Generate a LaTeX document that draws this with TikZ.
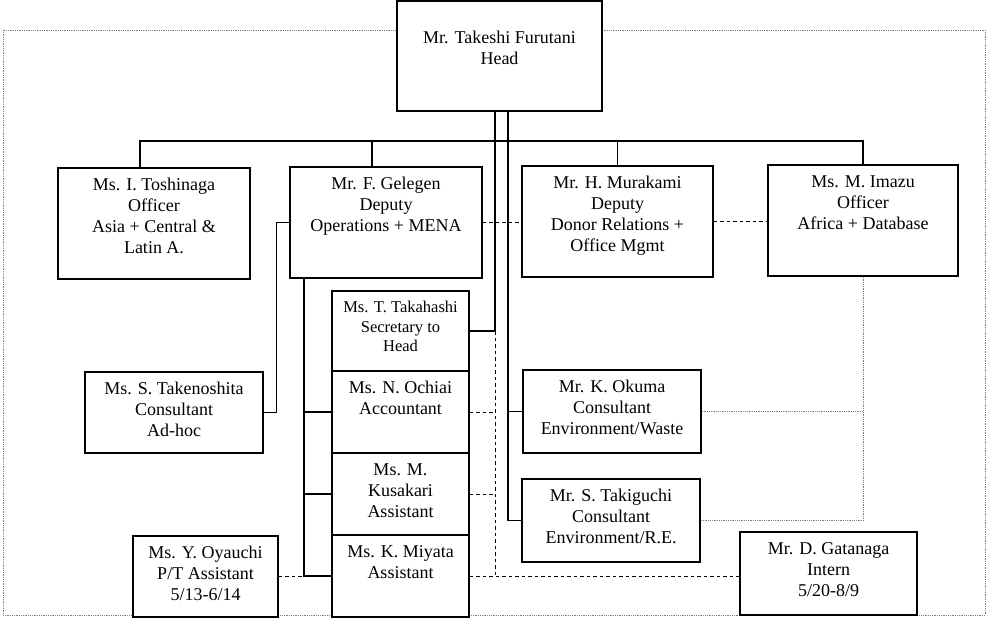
\documentclass[tikz,border=0pt]{standalone}
\usepackage{fontspec}
\setmainfont{Liberation Serif}
\begin{document}
\begin{tikzpicture}
[x=1pt,y=-1pt,%
  every node/.style={inner sep=0pt},%
  unit/.style 2 args={draw,line width=1.4pt,fill=white,minimum width=#1,minimum height=#2},%
  who/.style={anchor=north,align=center,yshift=-11pt,font=\fontsize{18}{21}\selectfont},%
  link/.style={line width=1.3pt},%
  soft/.style={line width=1pt,dash pattern=on 3.5pt off 3pt},%
  faint/.style={gray,line width=0.8pt,densely dotted}]
\useasboundingbox (0,0) rectangle (987,618);
\draw[faint] (3,30) rectangle (985,615);
\node[unit={205pt}{110pt},label={[who,yshift=-20pt]north:{Mr. Takeshi Furutani\\Head}}] (head) at (499.5,56) {};
\node[unit={192pt}{111pt},label={[who]north:{Ms. I. Toshinaga\\Officer\\Asia + Central \&\\Latin A.}}] (tosh) at (154,223.5) {};
\node[unit={192pt}{111pt},label={[who]north:{Mr. F. Gelegen\\Deputy\\Operations + MENA}}] (gel) at (386,222.5) {};
\node[unit={191pt}{111pt},label={[who]north:{Mr. H. Murakami\\Deputy\\Donor Relations +\\Office Mgmt}}] (mura) at (617.5,221.5) {};
\node[unit={190pt}{111pt},label={[who]north:{Ms. M. Imazu\\Officer\\Africa + Database}}] (imazu) at (863,220.5) {};
\node[unit={137pt}{80pt},label={[who,font=\fontsize{16.5}{19.5}\selectfont]north:{Ms. T. Takahashi\\Secretary to\\Head}}] (taka) at (400.5,331) {};
\node[unit={137pt}{82pt},label={[who]north:{Ms. N. Ochiai\\Accountant}}] (ochi) at (400.5,412) {};
\node[unit={137pt}{82pt},label={[who]north:{Ms. M.\\Kusakari\\Assistant}}] (kusa) at (400.5,494) {};
\node[unit={137pt}{82pt},label={[who]north:{Ms. K. Miyata\\Assistant}}] (miya) at (400.5,576) {};
\node[unit={178pt}{81pt},label={[who]north:{Ms. S. Takenoshita\\Consultant\\Ad-hoc}}] (take) at (174,412.5) {};
\node[unit={145pt}{81pt},label={[who]north:{Ms. Y. Oyauchi\\P/T Assistant\\5/13-6/14}}] (oya) at (205.5,576.5) {};
\node[unit={178pt}{83pt},label={[who]north:{Mr. K. Okuma\\Consultant\\Environment/Waste}}] (okuma) at (612,411.5) {};
\node[unit={178pt}{83pt},label={[who]north:{Mr. S. Takiguchi\\Consultant\\Environment/R.E.}}] (taki) at (611,520.5) {};
\node[unit={177pt}{83pt},label={[who]north:{Mr. D. Gatanaga\\Intern\\5/20-8/9}}] (gata) at (828.5,573.5) {};
\coordinate (trunkL) at ([xshift=-4.5pt]head.south);
\coordinate (trunkR) at ([xshift=8.5pt]head.south);
\coordinate (bus) at (500,141);
\coordinate (gelB) at ([xshift=-82pt]gel.south);
\draw[link] ([xshift=-14pt]tosh.north) |- (bus) -| (imazu.north);
\draw[link] ([xshift=-14pt]gel.north) |- (bus);
\draw[link] (mura.north) |- (bus);
\draw[link] (trunkL) |- (taka.east);
\draw[link] (trunkR) |- (taki.west);
\draw[link] (okuma.west) -- (okuma.west -| trunkR);
\draw[link] (gel.west) -- ++(-13,0) |- (take.east);
\draw[link] (gelB) |- (miya.west);
\draw[link] (ochi.west) -- (ochi.west -| gelB);
\draw[link] (kusa.west) -- (kusa.west -| gelB);
\draw[soft] (gel.east) -- (gel.east -| mura.west);
\draw[soft] (mura.east) -- (mura.east -| imazu.west);
\draw[soft] (taka.east -| trunkL) -- (miya.east -| trunkL);
\draw[soft] (ochi.east) -- (ochi.east -| trunkL);
\draw[soft] (kusa.east) -- (kusa.east -| trunkL);
\draw[soft] (miya.east) -- (miya.east -| gata.west);
\draw[soft] (oya.east) -- (oya.east -| gelB);
\draw[faint] (imazu.south) |- (taki.east);
\draw[faint] (okuma.east) -- (okuma.east -| imazu.south);
\end{tikzpicture}
\end{document}
